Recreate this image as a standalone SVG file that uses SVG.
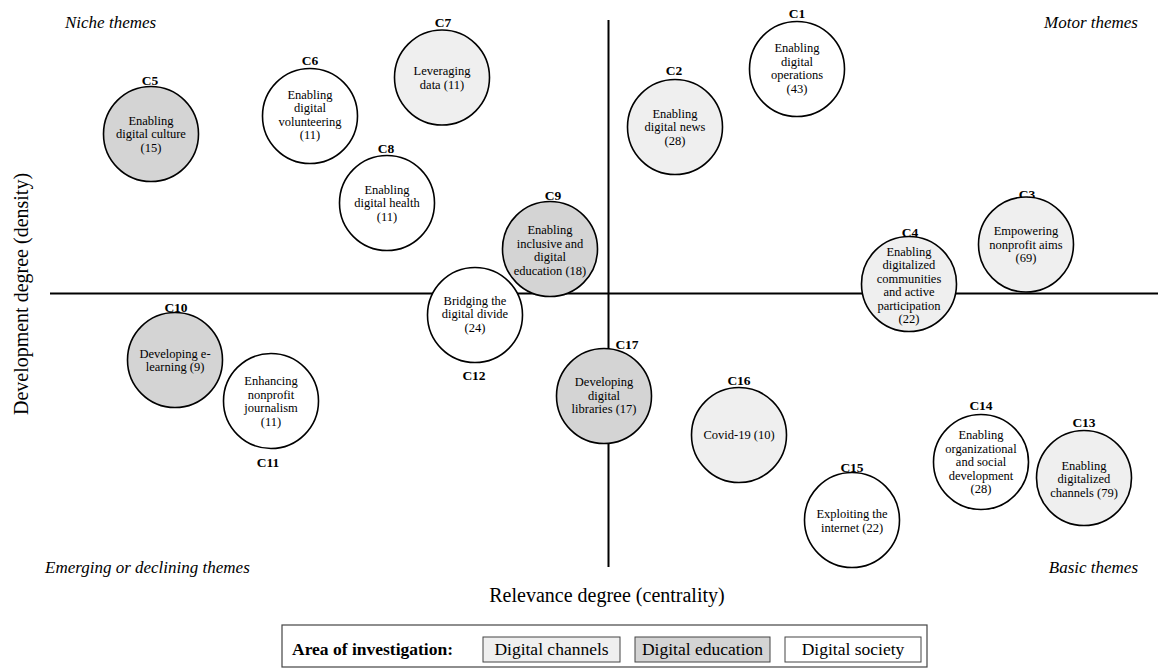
<svg xmlns="http://www.w3.org/2000/svg" width="1159" height="672" viewBox="0 0 1159 672">
<style>
text{font-family:"Liberation Serif","Times New Roman",serif;fill:#000}
.t{font-size:12.5px;text-anchor:middle}
.lb{font-size:13.5px;font-weight:bold;text-anchor:middle}
.q{font-size:17px;font-style:italic}
.ax{font-size:20px;text-anchor:middle}
.c{stroke:#000;stroke-width:1.6}
.ch{fill:#efefef}
.ed{fill:#d4d4d4}
.so{fill:#fff}
.axis{stroke:#000;stroke-width:2;fill:none}
.lg{font-size:17.5px}
.lbox{stroke:#444;stroke-width:1}
</style>
<rect width="1159" height="672" fill="#fff"/>
<g id="axes">
<line class="axis" x1="50" y1="293.5" x2="1158" y2="293.5"/>
<line class="axis" x1="608.5" y1="20" x2="608.5" y2="567"/>
</g>
<g id="quadrant-labels">
<text class="q" x="65" y="28">Niche themes</text>
<text class="q" x="1138" y="28" text-anchor="end">Motor themes</text>
<text class="q" x="45" y="573">Emerging or declining themes</text>
<text class="q" x="1138" y="573" text-anchor="end">Basic themes</text>
</g>
<text class="ax" x="607" y="602">Relevance degree (centrality)</text>
<text class="ax" transform="translate(28,294) rotate(-90)">Development degree (density)</text>
<g id="connectors"></g>
<g id="C1"><circle class="c so" cx="797" cy="69" r="47.5"/><text class="lb" x="797" y="18">C1</text>
<text class="t" x="797" y="52">Enabling</text><text class="t" x="797" y="65.5">digital</text><text class="t" x="797" y="79">operations</text><text class="t" x="797" y="92.5">(43)</text></g>
<g id="C2"><circle class="c ch" cx="675" cy="127" r="47.5"/><text class="lb" x="674" y="75">C2</text>
<text class="t" x="675" y="117.5">Enabling</text><text class="t" x="675" y="131">digital news</text><text class="t" x="675" y="144.5">(28)</text></g>
<g id="C3"><text class="lb" x="1027" y="199">C3</text><circle class="c ch" cx="1026" cy="244.5" r="47.5"/>
<text class="t" x="1026" y="235">Empowering</text><text class="t" x="1026" y="248.5">nonprofit aims</text><text class="t" x="1026" y="262">(69)</text></g>
<g id="C4"><circle class="c ch" cx="909" cy="284" r="47.5"/><text class="lb" x="910" y="237">C4</text>
<text class="t" x="909" y="255.5">Enabling</text><text class="t" x="909" y="269">digitalized</text><text class="t" x="909" y="282.5">communities</text><text class="t" x="909" y="296">and active</text><text class="t" x="909" y="309.5">participation</text><text class="t" x="909" y="323">(22)</text></g>
<g id="C5"><circle class="c ed" cx="151" cy="134" r="47.5"/><text class="lb" x="150" y="85">C5</text>
<text class="t" x="151" y="124.5">Enabling</text><text class="t" x="151" y="138">digital culture</text><text class="t" x="151" y="151.5">(15)</text></g>
<g id="C6"><circle class="c so" cx="310" cy="116" r="47.5"/><text class="lb" x="310" y="65">C6</text>
<text class="t" x="310" y="98.5">Enabling</text><text class="t" x="310" y="112">digital</text><text class="t" x="310" y="125.5">volunteering</text><text class="t" x="310" y="139">(11)</text></g>
<g id="C7"><circle class="c ch" cx="442" cy="77.5" r="47.5"/><text class="lb" x="443" y="27">C7</text>
<text class="t" x="442" y="75">Leveraging</text><text class="t" x="442" y="88.5">data (11)</text></g>
<g id="C8"><circle class="c so" cx="387" cy="203" r="47.5"/><text class="lb" x="386" y="153">C8</text>
<text class="t" x="387" y="193.5">Enabling</text><text class="t" x="387" y="207">digital health</text><text class="t" x="387" y="220.5">(11)</text></g>
<g id="C9"><circle class="c ed" cx="550" cy="249" r="47.5"/><text class="lb" x="553" y="200">C9</text>
<text class="t" x="550" y="234">Enabling</text><text class="t" x="550" y="247.5">inclusive and</text><text class="t" x="550" y="261">digital</text><text class="t" x="550" y="274.5">education (18)</text></g>
<g id="C10"><circle class="c ed" cx="175" cy="360" r="47.5"/><text class="lb" x="176" y="312">C10</text>
<text class="t" x="175" y="357.5">Developing e-</text><text class="t" x="175" y="371">learning (9)</text></g>
<g id="C11"><circle class="c so" cx="271" cy="401" r="47.5"/><text class="lb" x="268" y="467">C11</text>
<text class="t" x="271" y="385">Enhancing</text><text class="t" x="271" y="398.5">nonprofit</text><text class="t" x="271" y="412">journalism</text><text class="t" x="271" y="425.5">(11)</text></g>
<g id="C12"><circle class="c so" cx="475" cy="315" r="47.5"/><text class="lb" x="474" y="380">C12</text>
<text class="t" x="475" y="304.5">Bridging the</text><text class="t" x="475" y="318">digital divide</text><text class="t" x="475" y="331.5">(24)</text></g>
<g id="C13"><circle class="c ch" cx="1084" cy="478" r="47.5"/><text class="lb" x="1084" y="427">C13</text>
<text class="t" x="1084" y="469.5">Enabling</text><text class="t" x="1084" y="483">digitalized</text><text class="t" x="1084" y="496.5">channels (79)</text></g>
<g id="C14"><circle class="c so" cx="981" cy="462" r="47.5"/><text class="lb" x="981" y="410">C14</text>
<text class="t" x="981" y="439">Enabling</text><text class="t" x="981" y="452.5">organizational</text><text class="t" x="981" y="466">and social</text><text class="t" x="981" y="479.5">development</text><text class="t" x="981" y="493">(28)</text></g>
<g id="C15"><circle class="c so" cx="852" cy="520" r="47.5"/><text class="lb" x="852" y="472">C15</text>
<text class="t" x="852" y="518">Exploiting the</text><text class="t" x="852" y="531.5">internet (22)</text></g>
<g id="C16"><circle class="c ch" cx="739" cy="435" r="47.5"/><text class="lb" x="739" y="385">C16</text>
<text class="t" x="739" y="439">Covid-19 (10)</text></g>
<g id="C17"><circle class="c ed" cx="604" cy="396" r="47.5"/><text class="lb" x="627" y="349">C17</text>
<text class="t" x="604" y="386">Developing</text><text class="t" x="604" y="399.5">digital</text><text class="t" x="604" y="413">libraries (17)</text></g>
<g id="legend">
<rect x="282" y="625" width="645" height="42" fill="#fff" stroke="#444" stroke-width="1.2"/>
<text class="lg" x="292" y="655" font-weight="bold">Area of investigation:</text>
<rect x="483" y="637" width="137" height="25" class="ch lbox"/>
<text class="lg" x="551.5" y="655" text-anchor="middle">Digital channels</text>
<rect x="635" y="637" width="135" height="25" class="ed lbox"/>
<text class="lg" x="702.5" y="655" text-anchor="middle">Digital education</text>
<rect x="785" y="637" width="136" height="25" class="so lbox"/>
<text class="lg" x="853" y="655" text-anchor="middle">Digital society</text>
</g>
</svg>
